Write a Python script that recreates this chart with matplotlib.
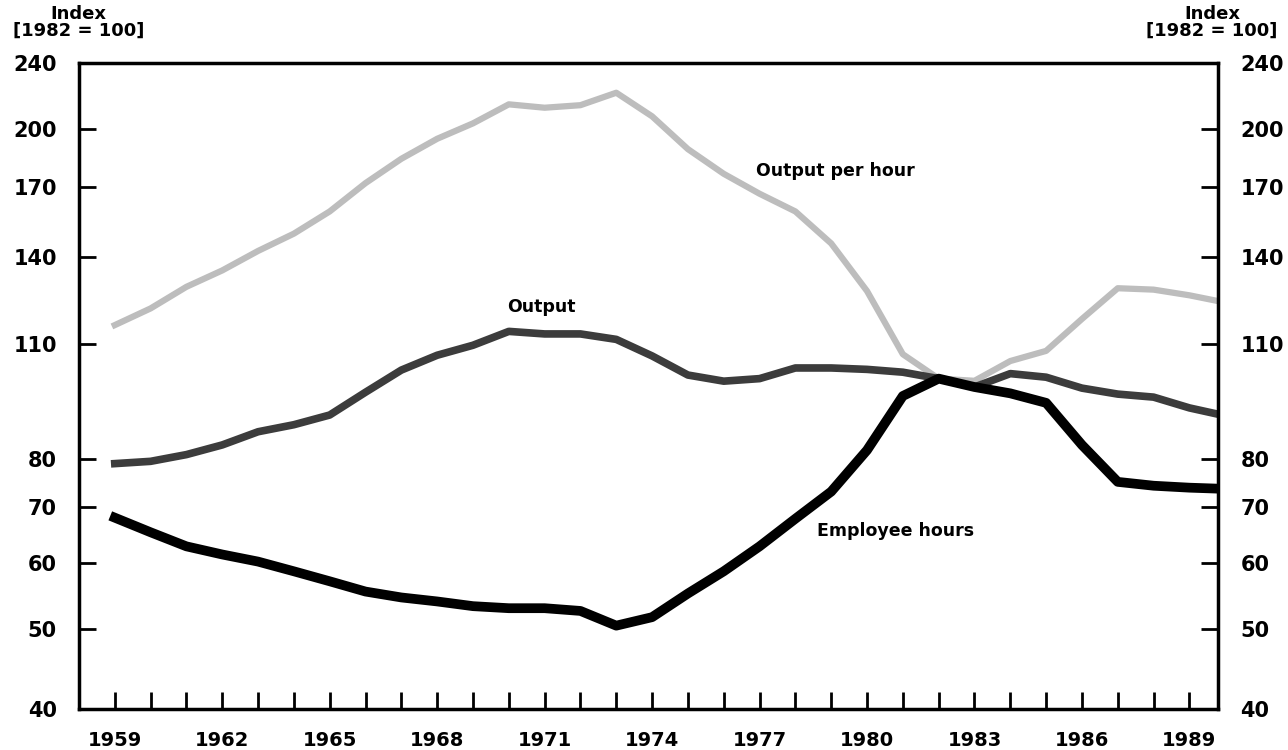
import numpy as np
import matplotlib.pyplot as plt
from matplotlib.ticker import FixedLocator, NullFormatter, NullLocator

years = [1959, 1960, 1961, 1962, 1963, 1964, 1965, 1966, 1967, 1968,
         1969, 1970, 1971, 1972, 1973, 1974, 1975, 1976, 1977, 1978,
         1979, 1980, 1981, 1982, 1983, 1984, 1985, 1986, 1987, 1988,
         1989, 1989.8]

output_per_hour = [116, 121.5, 129, 135, 142.5, 149.5, 159, 172, 184, 194.5,
                   203, 214, 212, 213.5, 221, 207, 189, 176.5, 167, 159,
                   145.5, 127.5, 107, 100, 99.4, 105, 108, 118, 128.5, 128,
                   126, 124]
output = [79, 79.5, 81, 83.2, 86.3, 88, 90.4, 96.3, 102.4, 106.7,
          109.7, 114, 113.2, 113.2, 111.5, 106.5, 101, 99.3, 100, 103,
          103, 102.6, 101.8, 100, 97.7, 101.4, 100.4, 97.4, 95.8, 95,
          92.2, 90.6]
employee_hours = [68, 65.3, 62.8, 61.4, 60.2, 58.6, 57, 55.4, 54.5, 53.9,
                  53.2, 52.9, 52.9, 52.5, 50.4, 51.6, 55.1, 58.6, 62.8, 67.8,
                  73.1, 82, 95.3, 100, 97.7, 96, 93.5, 83.2, 75.1, 74.3,
                  73.9, 73.7]

ytick_vals = [40, 50, 60, 70, 80, 110, 140, 170, 200, 240]
xtick_labels = list(range(1959, 1990, 3))

plt.rcParams['font.family'] = 'DejaVu Sans'
plt.rcParams['font.weight'] = 'bold'

fig = plt.figure(figsize=(12.88, 7.5), dpi=100)
ax = fig.add_axes([0.0613, 0.0547, 0.8844, 0.8613])

ax.plot(years, output_per_hour, color='#bdbdbd', lw=4.5)
ax.plot(years, output, color='#3c3c3c', lw=5.5)
ax.plot(years, employee_hours, color='black', lw=7)

ax.set_yscale('log')
ax.set_ylim(40, 240)
ax.set_xlim(1958, 1989.8)

ax.yaxis.set_major_locator(FixedLocator(ytick_vals))
ax.yaxis.set_minor_locator(NullLocator())
ax.set_yticklabels([str(v) for v in ytick_vals])
ax.yaxis.set_minor_formatter(NullFormatter())

ax.set_xticks(range(1959, 1990))
ax.set_xticklabels([str(y) if y in xtick_labels else '' for y in range(1959, 1990)])

ax.tick_params(axis='both', direction='in', length=12, width=2, labelsize=14)
ax.tick_params(axis='y', which='both', left=True, right=True,
               labelleft=True, labelright=True, labelsize=15)
ax.tick_params(axis='y', pad=16)
ax.tick_params(axis='x', pad=16)
for lab in ax.get_yticklabels() + ax.get_xticklabels():
    lab.set_fontweight('bold')

for s in ax.spines.values():
    s.set_linewidth(2.5)

ax.text(1976.9, 178, 'Output per hour', fontsize=12.5, fontweight='bold',
        ha='left', va='center')
ax.text(1970.9, 122, 'Output', fontsize=12.5, fontweight='bold',
        ha='center', va='center')
ax.text(1978.6, 65.6, 'Employee hours', fontsize=12.5, fontweight='bold',
        ha='left', va='center')

fig.text(0.061, 0.970, 'Index\n[1982 = 100]', fontsize=13, fontweight='bold',
         ha='center', va='center', linespacing=0.95)
fig.text(0.941, 0.970, 'Index\n[1982 = 100]', fontsize=13, fontweight='bold',
         ha='center', va='center', linespacing=0.95)

fig.savefig('out.png', dpi=100)
